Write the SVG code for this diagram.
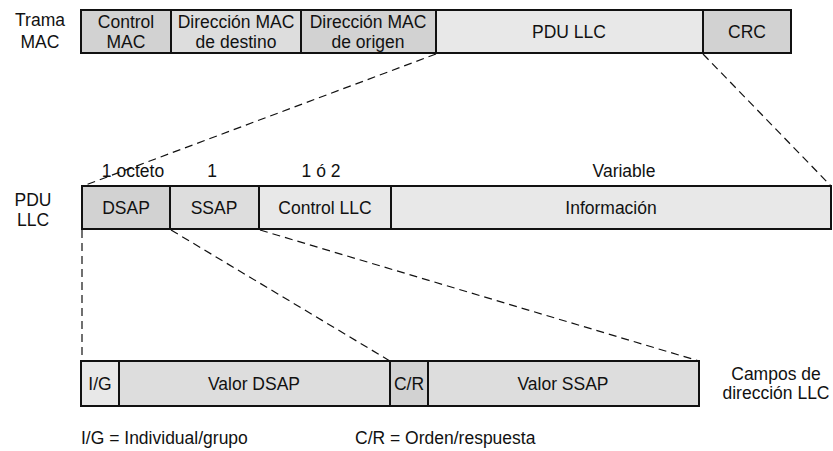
<svg xmlns="http://www.w3.org/2000/svg" width="833" height="451" viewBox="0 0 833 451">
<style>
text{font-family:"Liberation Sans",Arial,sans-serif;font-size:17.5px;fill:#111}
.c{text-anchor:middle}
.box{stroke:#111;stroke-width:2}
.d{fill:#d2d2d2}
.m{fill:#dddddd}
.l{fill:#e8e8e8}
.dash{stroke:#111;stroke-width:1.2;stroke-dasharray:8 5;fill:none}
</style>
<rect width="833" height="451" fill="#fff"/>
<g id="labels">
<text class="c" x="40" y="26">Trama</text>
<text class="c" x="40" y="48">MAC</text>
<text class="c" x="33" y="206">PDU</text>
<text class="c" x="33" y="226">LLC</text>
<text class="c" x="133" y="177">1 octeto</text>
<text class="c" x="212" y="177">1</text>
<text class="c" x="321" y="177">1 ó 2</text>
<text class="c" x="624" y="177">Variable</text>
<text class="c" x="776" y="380">Campos de</text>
<text class="c" x="776" y="399">dirección LLC</text>
<text x="81" y="444">I/G = Individual/grupo</text>
<text x="355" y="444">C/R = Orden/respuesta</text>
</g>
<g id="connectors">
<line class="dash" x1="436" y1="54" x2="83" y2="186"/>
<line class="dash" x1="703" y1="54" x2="831" y2="186"/>
<line class="dash" x1="82" y1="230" x2="82" y2="361"/>
<line class="dash" x1="171" y1="230" x2="390" y2="361"/>
<line class="dash" x1="260" y1="230" x2="699" y2="361"/>
</g>
<g id="trama-mac">
<g id="control-mac"><rect class="box d" x="81" y="10" width="90" height="43"/><text class="c" x="126" y="28">Control</text><text class="c" x="126" y="48">MAC</text></g>
<g id="dir-destino"><rect class="box m" x="171" y="10" width="130" height="43"/><text class="c" x="236" y="28">Dirección MAC</text><text class="c" x="236" y="48">de destino</text></g>
<g id="dir-origen"><rect class="box d" x="301" y="10" width="135" height="43"/><text class="c" x="368" y="28">Dirección MAC</text><text class="c" x="368" y="48">de origen</text></g>
<g id="pdu-llc"><rect class="box l" x="436" y="10" width="267" height="43"/><text class="c" x="569" y="38">PDU LLC</text></g>
<g id="crc"><rect class="box d" x="703" y="10" width="88" height="43"/><text class="c" x="747" y="38">CRC</text></g>
</g>
<g id="pdu-row">
<g id="dsap"><rect class="box d" x="82" y="186" width="88" height="43"/><text class="c" x="126" y="214">DSAP</text></g>
<g id="ssap"><rect class="box m" x="170" y="186" width="89" height="43"/><text class="c" x="214" y="214">SSAP</text></g>
<g id="control-llc"><rect class="box l" x="259" y="186" width="132" height="43"/><text class="c" x="325" y="214">Control LLC</text></g>
<g id="informacion"><rect class="box l" x="391" y="186" width="440" height="43"/><text class="c" x="611" y="214">Información</text></g>
</g>
<g id="campos-row">
<g id="ig"><rect class="box l" x="81" y="361" width="38" height="45"/><text class="c" x="100" y="390">I/G</text></g>
<g id="valor-dsap"><rect class="box m" x="119" y="361" width="271" height="45"/><text class="c" x="254" y="390">Valor DSAP</text></g>
<g id="cr"><rect class="box d" x="390" y="361" width="38" height="45"/><text class="c" x="409" y="390">C/R</text></g>
<g id="valor-ssap"><rect class="box m" x="428" y="361" width="271" height="45"/><text class="c" x="563" y="390">Valor SSAP</text></g>
</g>
</svg>
